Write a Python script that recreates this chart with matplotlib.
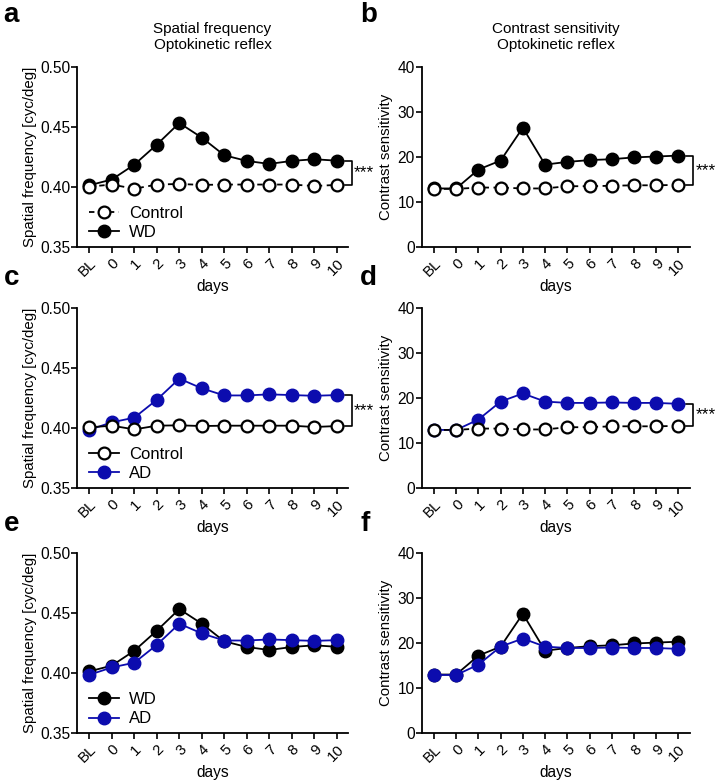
import numpy as np
import matplotlib
matplotlib.use('Agg')
import matplotlib.pyplot as plt

plt.rcParams['font.family'] = ['Liberation Sans', 'DejaVu Sans']

# Data
days = ['BL', '0', '1', '2', '3', '4', '5', '6', '7', '8', '9', '10']

sf_control_a = [0.4003, 0.402, 0.3985, 0.402, 0.4025, 0.4017, 0.402, 0.402, 0.402, 0.402, 0.4008, 0.4017]
sf_wd = [0.4014, 0.4062, 0.4186, 0.4353, 0.4533, 0.4411, 0.4264, 0.4217, 0.4192, 0.4217, 0.4231, 0.4219]
sf_wd_err = [0.001, 0.001, 0.001, 0.0015, 0.002, 0.0015, 0.001, 0.001, 0.001, 0.001, 0.001, 0.001]

cs_control_b = [12.9, 12.9, 13.2, 13.2, 13.0, 13.0, 13.5, 13.5, 13.6, 13.7, 13.7, 13.8]
cs_wd = [13.0, 13.0, 17.2, 19.2, 26.5, 18.3, 18.9, 19.3, 19.5, 19.9, 20.1, 20.3]
cs_wd_err = [0.2, 0.2, 0.4, 0.4, 1.0, 0.5, 0.3, 0.3, 0.3, 0.3, 0.3, 0.3]

sf_control_c = [0.4005, 0.4019, 0.3988, 0.4019, 0.4022, 0.4016, 0.4019, 0.4019, 0.4019, 0.4019, 0.4008, 0.4016]
sf_ad = [0.3985, 0.4047, 0.4086, 0.4235, 0.4411, 0.433, 0.4271, 0.4271, 0.428, 0.4274, 0.4268, 0.4274]
sf_ad_err = [0.0025, 0.0012, 0.0025, 0.002, 0.0015, 0.0025, 0.001, 0.001, 0.001, 0.001, 0.001, 0.001]

cs_control_d = [12.9, 12.9, 13.2, 13.2, 13.0, 13.0, 13.5, 13.5, 13.7, 13.7, 13.7, 13.8]
cs_ad = [12.9, 12.9, 15.2, 19.2, 21.0, 19.2, 18.9, 18.9, 19.0, 18.9, 18.9, 18.7]
cs_ad_err = [0.2, 0.2, 0.4, 0.4, 0.4, 0.4, 0.3, 0.3, 0.3, 0.3, 0.3, 0.3]

blue = '#0c0cae'
x = np.arange(len(days))

fig = plt.figure(figsize=(7.16, 7.83), dpi=100)

left_col = 0.1075
right_col = 0.589
w_a = 0.3785
w_b = 0.374
h = 0.2299
rows = [0.6846, 0.3768, 0.0638]

axes = {}
for i, letter in enumerate(['a', 'c', 'e']):
    axes[letter] = fig.add_axes([left_col, rows[i], w_a, h])
for i, letter in enumerate(['b', 'd', 'f']):
    axes[letter] = fig.add_axes([right_col, rows[i], w_b, h])


def style(ax, kind):
    for s in ['top', 'right']:
        ax.spines[s].set_visible(False)
    for s in ['left', 'bottom']:
        ax.spines[s].set_linewidth(1.3)
    ax.set_xlim(-0.55, 11.5)
    ax.set_xticks(x)
    ax.set_xticklabels(days, rotation=45, ha='right', va='top', rotation_mode='anchor')
    ax.tick_params(axis='x', length=4.5, width=1.2, labelsize=10.8, pad=2)
    ax.tick_params(axis='y', length=4, width=1.2, labelsize=11.2, pad=1)
    ax.set_xlabel('days', fontsize=11.2, labelpad=0)
    if kind == 'sf':
        ax.set_ylim(0.35, 0.50)
        ax.set_yticks([0.35, 0.40, 0.45, 0.50])
        ax.set_yticklabels(['0.35', '0.40', '0.45', '0.50'])
        ax.set_ylabel('Spatial frequency [cyc/deg]', fontsize=10.8, labelpad=2)
    else:
        ax.set_ylim(0, 40)
        ax.set_yticks([0, 10, 20, 30, 40])
        ax.set_ylabel('Contrast sensitivity', fontsize=10.8, labelpad=3)


def filled(ax, y, err, color, label):
    ax.errorbar(x, y, yerr=err, fmt='none', ecolor=color, capsize=3, elinewidth=1.2, zorder=3)
    ax.plot(x, y, color=color, lw=1.3, marker='o', ms=9,
            mfc=color, mec=color, label=label, zorder=3)


def control(ax, y, dashed):
    if dashed:
        ax.plot(x, y, color='black', lw=1.3, ls='--', dashes=(3, 2.5),
                marker='o', ms=8.5, mfc='white', mec='black', mew=1.6, label='Control', zorder=4)
    else:
        ax.plot(x, y, color='black', lw=1.3, ls='-',
                marker='o', ms=8.5, mfc='white', mec='black', mew=1.6, label='Control', zorder=4)


def bracket(ax, y1, y2):
    xb0, xb1 = 11.35, 11.67
    ax.plot([xb0, xb1, xb1, xb0], [y1, y1, y2, y2], color='black', lw=1.2, clip_on=False)
    ax.text(xb1 + 0.1, (y1 + y2) / 2, '***', fontsize=12.5, va='center', ha='left', clip_on=False)


def legend(ax):
    ax.legend(loc='lower left', frameon=False, fontsize=12, handlelength=1.8,
              borderaxespad=0.0, labelspacing=0.25, handletextpad=0.6,
              bbox_to_anchor=(0.02, 0.0))


# panel a
ax = axes['a']
style(ax, 'sf')
control(ax, sf_control_a, True)
filled(ax, sf_wd, sf_wd_err, 'black', 'WD')
bracket(ax, sf_wd[-1], sf_control_a[-1])
legend(ax)
ax.set_title('Spatial frequency\nOptokinetic reflex', fontsize=11, pad=13, linespacing=1.2)

# panel b
ax = axes['b']
style(ax, 'cs')
control(ax, cs_control_b, True)
filled(ax, cs_wd, cs_wd_err, 'black', 'WD')
bracket(ax, cs_wd[-1], cs_control_b[-1])
ax.set_title('Contrast sensitivity\nOptokinetic reflex', fontsize=11, pad=13, linespacing=1.2)

# panel c
ax = axes['c']
style(ax, 'sf')
control(ax, sf_control_c, False)
filled(ax, sf_ad, sf_ad_err, blue, 'AD')
bracket(ax, sf_ad[-1], sf_control_c[-1])
legend(ax)

# panel d
ax = axes['d']
style(ax, 'cs')
control(ax, cs_control_d, True)
filled(ax, cs_ad, cs_ad_err, blue, 'AD')
bracket(ax, cs_ad[-1], cs_control_d[-1])

# panel e
ax = axes['e']
style(ax, 'sf')
filled(ax, sf_wd, sf_wd_err, 'black', 'WD')
filled(ax, sf_ad, sf_ad_err, blue, 'AD')
legend(ax)

# panel f
ax = axes['f']
style(ax, 'cs')
filled(ax, cs_wd, cs_wd_err, 'black', 'WD')
filled(ax, cs_ad, cs_ad_err, blue, 'AD')

# panel letters
letters = {'a': (0.005, 0.998), 'b': (0.503, 0.998), 'c': (0.005, 0.662),
           'd': (0.503, 0.662), 'e': (0.005, 0.347), 'f': (0.503, 0.347)}
for k, (lx, ly) in letters.items():
    fig.text(lx, ly, k, fontsize=20, fontweight='bold', va='top', ha='left')

fig.savefig('out.png', dpi=100)
